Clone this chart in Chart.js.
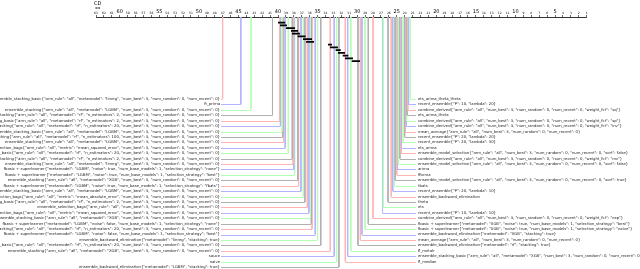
<!DOCTYPE html>
<html>
<head>
<meta charset="utf-8">
<script src="https://cdn.jsdelivr.net/npm/chart.js@4/dist/chart.umd.min.js"></script>
<style>
  html, body { margin: 0; padding: 0; background: #fff; }
  canvas { display: block; }
</style>
</head>
<body>
<canvas id="cdChart" width="640" height="269"></canvas>
<script>
// methods on the left, worst average rank first
const LEFT_NAMES = [
  'ensemble_stacking_basic{"arm_rule": "all", "metamodel": "linreg", "num_best": 3, "num_random": 0, "num_recent": 0}',
  'ft_prima',
  'ensemble_stacking{"arm_rule": "all", "metamodel": "LGBM", "num_best": 3, "num_random": 0, "num_recent": 0}',
  'ensemble_stacking{"arm_rule": "all", "metamodel": "rf", "n_estimators": 2, "num_best": 3, "num_random": 0, "num_recent": 0}',
  'ensemble_stacking_basic{"arm_rule": "all", "metamodel": "rf", "n_estimators": 2, "num_best": 3, "num_random": 0, "num_recent": 0}',
  'ensemble_stacking{"arm_rule": "all", "metamodel": "rf", "n_estimators": 20, "num_best": 3, "num_random": 0, "num_recent": 0}',
  'ensemble_stacking_basic{"arm_rule": "all", "metamodel": "LGBM", "num_best": 3, "num_random": 0, "num_recent": 0}',
  'ensemble_stacking{"arm_rule": "all", "metamodel": "rf", "n_estimators": 100, "num_best": 3, "num_random": 0, "num_recent": 0}',
  'ensemble_stacking{"arm_rule": "all", "metamodel": "LGBM", "num_best": 3, "num_random": 0, "num_recent": 0}',
  'ensemble_selection_bags{"arm_rule": "all", "metric": "mean_squared_error", "num_best": 3, "num_random": 0, "num_recent": 0}',
  'ensemble_stacking_basic{"arm_rule": "all", "metamodel": "rf", "n_estimators": 20, "num_best": 3, "num_random": 0, "num_recent": 0}',
  'ensemble_stacking{"arm_rule": "all", "metamodel": "rf", "n_estimators": 2, "num_best": 3, "num_random": 0, "num_recent": 0}',
  'ensemble_stacking{"arm_rule": "all", "metamodel": "linreg", "num_best": 3, "num_random": 0, "num_recent": 0}',
  'fbasic + superlearner{"metamodel": "LGBM", "noise": true, "num_base_models": 1, "selection_strategy": "none"}',
  'fbasic + superlearner{"metamodel": "LGBM", "noise": true, "num_base_models": 1, "selection_strategy": "best"}',
  'ensemble_stacking{"arm_rule": "all", "metamodel": "XGB", "num_best": 3, "num_random": 0, "num_recent": 0}',
  'fbasic + superlearner{"metamodel": "LGBM", "noise": true, "num_base_models": 1, "selection_strategy": "fbats"}',
  'ensemble_stacking_basic{"arm_rule": "all", "metamodel": "LGBM", "num_best": 3, "num_random": 0, "num_recent": 0}',
  'ensemble_selection_bags{"arm_rule": "all", "metric": "mean_absolute_error", "num_best": 3, "num_random": 0, "num_recent": 0}',
  'ensemble_stacking_basic{"arm_rule": "all", "metamodel": "rf", "n_estimators": 2, "num_best": 3, "num_random": 0, "num_recent": 0}',
  'ensemble_selection_bags{"arm_rule": "all", "num_best": 3, "num_random": 0, "num_recent": 0}',
  'ensemble_selection_bags{"arm_rule": "all", "metric": "mean_squared_error", "num_best": 3, "num_random": 0, "num_recent": 0}',
  'ensemble_stacking_basic{"arm_rule": "all", "metamodel": "XGB", "num_best": 3, "num_random": 0, "num_recent": 0}',
  'fbasic + superlearner{"metamodel": "LGBM", "noise": false, "num_base_models": 1, "selection_strategy": "none"}',
  'ensemble_stacking{"arm_rule": "all", "metamodel": "rf", "n_estimators": 20, "num_best": 3, "num_random": 0, "num_recent": 0}',
  'fbasic + superlearner{"metamodel": "LGBM", "noise": false, "num_base_models": 1, "selection_strategy": "best"}',
  'ensemble_backward_elimination{"metamodel": "linreg", "stacking": true}',
  'ensemble_stacking_basic{"arm_rule": "all", "metamodel": "rf", "n_estimators": 20, "num_best": 3, "num_random": 0, "num_recent": 0}',
  'ensemble_stacking{"arm_rule": "all", "metamodel": "XGB", "num_best": 3, "num_random": 0, "num_recent": 0}',
  'sauce',
  'naive',
  'ensemble_backward_elimination{"metamodel": "LGBM", "stacking": true}'
];
const LEFT_RANKS = [
  47.0, 44.7, 43.4, 40.7, 39.8, 39.7, 39.5, 39.4, 39.3, 39.1, 38.7, 38.2, 38.1, 38.0, 37.9, 37.5,
  37.4, 37.1, 36.8, 36.6, 36.3, 36.1, 35.9, 35.8, 35.7, 35.3, 35.0, 34.6, 33.4, 32.9, 32.6, 32.3
];

// methods on the right, best average rank first
const RIGHT_NAMES = [
  'ets_arima_theta_theta',
  'recent_ensemble{"P": 10, "lambda": 20}',
  'combine_derived{"arm_rule": "all", "num_best": 3, "num_random": 0, "num_recent": 0, "weight_fct": "sq"}',
  'ets_arima_theta',
  'combine_derived{"arm_rule": "all", "num_best": 3, "num_random": 0, "num_recent": 0, "weight_fct": "sp"}',
  'combine_derived{"arm_rule": "all", "num_best": 3, "num_random": 0, "num_recent": 0, "weight_fct": "inv"}',
  'mean_average{"arm_rule": "all", "num_best": 3, "num_random": 0, "num_recent": 0}',
  'recent_ensemble{"P": 20, "lambda": 20}',
  'recent_ensemble{"P": 20, "lambda": 30}',
  'ets_arima',
  'ensemble_model_selection{"arm_rule": "all", "num_best": 3, "num_random": 0, "num_recent": 0, "sort": false}',
  'combine_derived{"arm_rule": "all", "num_best": 3, "num_random": 0, "num_recent": 0, "weight_fct": "mv"}',
  'ensemble_model_selection{"arm_rule": "all", "num_best": 3, "num_random": 0, "num_recent": 0, "sort": false}',
  'arima',
  'fforma',
  'ensemble_model_selection{"arm_rule": "all", "num_best": 3, "num_random": 0, "num_recent": 0, "sort": true}',
  'tbats',
  'recent_ensemble{"P": 20, "lambda": 10}',
  'ensemble_backward_elimination',
  'theta',
  'ets',
  'recent_ensemble{"P": 10, "lambda": 10}',
  'combine_derived{"arm_rule": "all", "num_best": 3, "num_random": 0, "num_recent": 0, "weight_fct": "exp"}',
  'fbasic + superlearner{"metamodel": "XGB", "noise": true, "num_base_models": 1, "selection_strategy": "best"}',
  'fbasic + superlearner{"metamodel": "XGB", "noise": true, "num_base_models": 1, "selection_strategy": "naive"}',
  'ensemble_backward_elimination{"metamodel": "XGB", "stacking": true}',
  'mean_average{"arm_rule": "all", "num_best": 3, "num_random": 0, "num_recent": 0}',
  'ensemble_backward_elimination{"metamodel": "rf", "stacking": true}',
  'fl_metalr',
  'ensemble_stacking_basic{"arm_rule": "all", "metamodel": "XGB", "num_best": 3, "num_random": 0, "num_recent": 0}',
  'fl_median'
];
const RIGHT_RANKS = [
  23.3, 23.5, 23.6, 23.7, 23.75, 23.8, 23.9, 24.0, 24.2, 24.4, 24.45, 24.6, 24.8, 24.9, 25.0, 25.2,
  25.3, 25.5, 25.7, 26.1, 26.7, 26.8, 28.0, 28.6, 29.0, 29.4, 29.6, 29.9, 30.8, 31.2, 31.5
];

// groups with no significant difference (rank span of each bar)
const CLIQUE_FROM = [40.0, 39.75, 39.0, 38.36, 38.24, 37.52, 36.85, 36.46, 33.69, 33.44, 32.72, 32.43, 31.83, 31.54, 30.69];
const CLIQUE_TO   = [39.1, 38.87, 37.86, 37.48, 37.23, 36.51, 35.71, 35.46, 33.18, 32.43, 32.08, 31.54, 31.12, 30.53, 29.64];

const NUM_METHODS = 63;
const CD = 0.42;

const LINE_COLORS = ['#ffb3b3', '#b3b3ff', '#b3ffb3', '#b0b0b0'];
const FONT = '"DejaVu Sans", sans-serif';
const ROW_TOP = 82, ROW_STEP = 5.42;
const CLIQUE_TOP = 5.6, CLIQUE_STEP = 2.75;
const LEFT_TEXT_X = 220, RIGHT_TEXT_X = 418;

let methods = [];
LEFT_RANKS.forEach((r, i) => methods.push({ name: LEFT_NAMES[i], rank: r, side: 'left', row: i, k: i }));
RIGHT_RANKS.forEach((r, j) => methods.push({
  name: RIGHT_NAMES[j], rank: r, side: 'right', row: j,
  k: LEFT_RANKS.length + RIGHT_RANKS.length - 1 - j
}));

let datasets = [];
CLIQUE_FROM.forEach((from, i) => {
  let cy = CLIQUE_TOP + i * CLIQUE_STEP;
  datasets.push({
    data: [{ x: from, y: cy }, { x: CLIQUE_TO[i], y: cy }],
    borderColor: '#000', borderWidth: 1.8, showLine: true, pointRadius: 0
  });
});
methods.forEach(m => {
  datasets.push({
    data: [{ x: m.rank, y: 0 }, { x: m.rank, y: ROW_TOP + m.row * ROW_STEP }],
    borderColor: LINE_COLORS[m.k % 4], borderWidth: 1, showLine: true, pointRadius: 0
  });
});

const labelsPlugin = {
  id: 'cdLabels',
  beforeDatasetsDraw(chart) {
    const ctx = chart.ctx, xs = chart.scales.x, ys = chart.scales.y;
    ctx.save();
    ctx.lineWidth = 1;
    methods.forEach(m => {
      let px = xs.getPixelForValue(m.rank);
      let py = Math.round(ys.getPixelForValue(ROW_TOP + m.row * ROW_STEP)) + 0.5;
      ctx.strokeStyle = LINE_COLORS[m.k % 4];
      ctx.beginPath();
      ctx.moveTo(px, py);
      ctx.lineTo(m.side === 'left' ? LEFT_TEXT_X + 1 : RIGHT_TEXT_X - 2, py);
      ctx.stroke();
    });
    ctx.restore();
  },
  afterDraw(chart) {
    const ctx = chart.ctx, xs = chart.scales.x, ys = chart.scales.y;
    ctx.save();
    ctx.fillStyle = '#222';
    ctx.font = '3.8px ' + FONT;
    ctx.textBaseline = 'middle';
    methods.forEach(m => {
      let py = ys.getPixelForValue(ROW_TOP + m.row * ROW_STEP);
      ctx.textAlign = m.side === 'left' ? 'right' : 'left';
      ctx.fillText(m.name, m.side === 'left' ? LEFT_TEXT_X : RIGHT_TEXT_X, py);
    });
    // critical difference marker
    let x0 = xs.getPixelForValue(NUM_METHODS), x1 = xs.getPixelForValue(NUM_METHODS - CD);
    ctx.strokeStyle = '#000';
    ctx.lineWidth = 0.6;
    ctx.beginPath();
    ctx.moveTo(x0, 8); ctx.lineTo(x1, 8);
    ctx.moveTo(x0, 7); ctx.lineTo(x0, 9);
    ctx.moveTo(x1, 7); ctx.lineTo(x1, 9);
    ctx.stroke();
    ctx.fillStyle = '#000';
    ctx.font = '5px ' + FONT;
    ctx.textAlign = 'center';
    ctx.textBaseline = 'bottom';
    ctx.fillText('CD', (x0 + x1) / 2, 6);
    ctx.restore();
  }
};

new Chart(document.getElementById('cdChart').getContext('2d'), {
  type: 'scatter',
  data: { datasets: datasets },
  options: {
    responsive: false,
    animation: false,
    devicePixelRatio: 1,
    layout: { padding: { left: 96, right: 53.3, top: 0, bottom: 0 } },
    plugins: { legend: { display: false }, tooltip: { enabled: false } },
    scales: {
      x: {
        type: 'linear',
        position: 'top',
        reverse: true,
        min: 1,
        max: NUM_METHODS,
        afterFit(scale) { scale.height = 17; },
        ticks: {
          stepSize: 1,
          autoSkip: false,
          maxRotation: 0,
          padding: 0,
          color: '#000',
          font: (c) => ({ family: FONT, size: c.tick && c.tick.value % 5 === 0 ? 5 : 3 })
        },
        grid: { drawOnChartArea: false, tickLength: 2, color: '#000', lineWidth: 0.6 },
        border: { color: '#000', width: 0.8 }
      },
      y: { display: false, reverse: true, min: 0, max: 252 }
    }
  },
  plugins: [labelsPlugin]
});
</script>
</body>
</html>
